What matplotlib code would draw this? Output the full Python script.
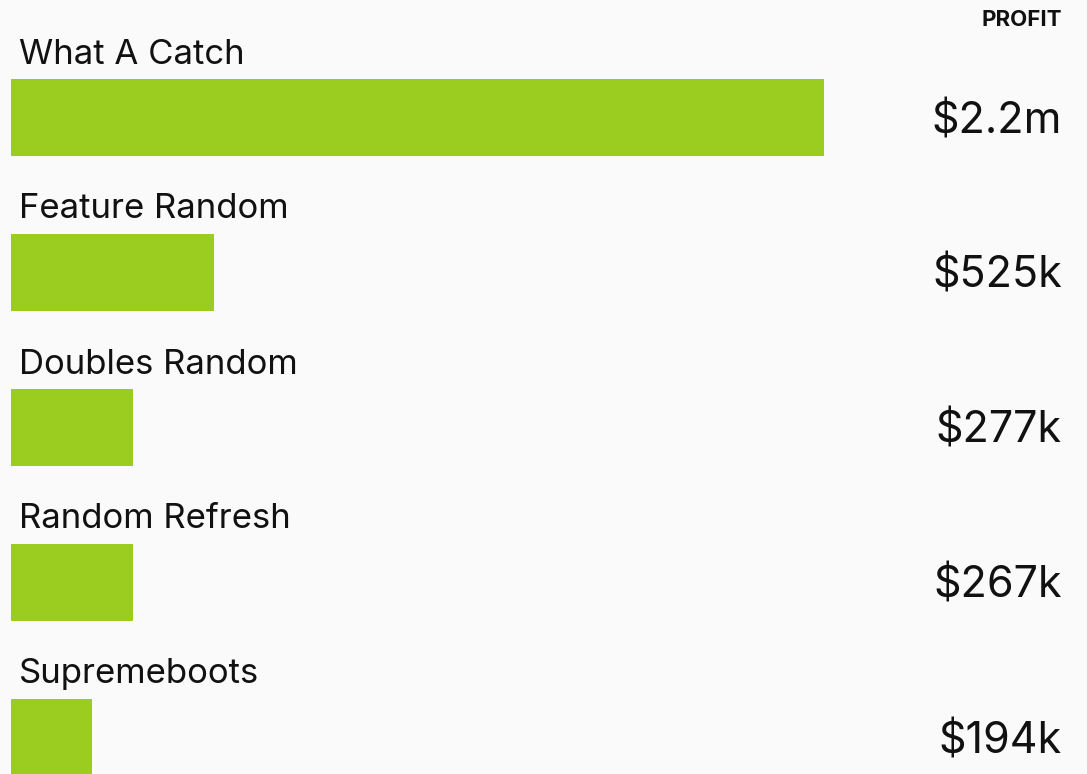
import matplotlib
matplotlib.use("Agg")
import matplotlib.pyplot as plt
import matplotlib.transforms as mtransforms

# Data
categories = ["What A Catch", "Feature Random", "Doubles Random", "Random Refresh", "Supremeboots"]
bar_values_k = [2200, 549, 330, 330, 219]   # bar lengths (k$)
value_labels = ["$2.2m", "$525k", "$277k", "$267k", "$194k"]
header = "PROFIT"

W, H = 1087, 774
BG = "#fafafa"
GREEN = "#9acd20"
TXT = "#111111"

fig = plt.figure(figsize=(W / 100, H / 100), dpi=100, facecolor=BG)
ax = fig.add_axes([0, 0, 1, 1])
ax.set_facecolor(BG)

slot = 155.0
c0 = 117
ax.set_ylim((H - c0) / slot, -c0 / slot)
kpp = max(bar_values_k) / (824 - 11)
ax.set_xlim(-11 * kpp, (W - 11) * kpp)
ax.axis("off")

font = "Inter"
ypos = list(range(len(categories)))
ax.barh(ypos, bar_values_k, height=77 / slot, left=0, color=GREEN, edgecolor="none")

trans = mtransforms.blended_transform_factory(ax.transAxes, ax.transData)
for i, (cat, lab) in enumerate(zip(categories, value_labels)):
    ax.text(19 / W, i - 38.5 / slot - 15 / slot, cat, transform=trans, ha="left", va="baseline",
            fontsize=25, color=TXT, family=font)
    ax.text(1062 / W, i + 4.5 / slot, lab, transform=trans, ha="right", va="center",
            fontsize=31, color=TXT, family=font)

fig.text(1062 / W, 1 - 10 / H, header, ha="right", va="top", fontsize=16,
         fontweight="bold", color=TXT, family=font)

fig.savefig("out.png", dpi=100, facecolor=BG)
